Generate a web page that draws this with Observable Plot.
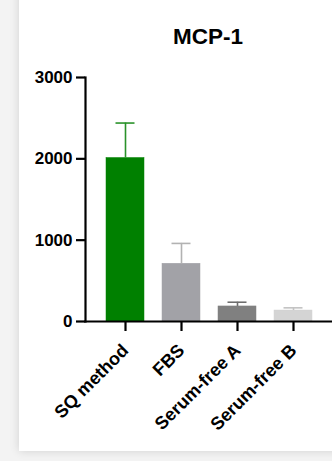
<!DOCTYPE html>
<html>
<head>
<meta charset="utf-8">
<script src="https://cdn.jsdelivr.net/npm/d3@7"></script>
<script src="https://cdn.jsdelivr.net/npm/@observablehq/plot@0.6"></script>
<style>
  html, body { margin: 0; padding: 0; }
  body {
    width: 332px; height: 461px; overflow: hidden; position: relative;
    background: #f3f3f3;
    font-family: "Liberation Sans", Arial, Helvetica, sans-serif;
  }
  #card {
    position: absolute; left: 19px; top: -20px; width: 340px; height: 471px;
    background: #fff; box-shadow: 0 0 9px rgba(0,0,0,0.14);
  }
  #title {
    position: absolute; left: 133px; width: 150px; top: 26px;
    text-align: center; font-weight: bold; font-size: 22.5px; line-height: 22px; color: #000;
  }
  #chart { position: absolute; left: 0; top: 0; }
  #chart svg { background: transparent; overflow: visible; }
</style>
</head>
<body>
<div id="card"></div>
<div id="title">MCP-1</div>
<div id="chart"></div>
<script>
// MCP-1 secretion by culture condition (mean with upward SD error bar)
const categories = ["SQ method", "FBS", "Serum-free A", "Serum-free B"];
const means = [2010, 710, 185, 135];
const sds = [430, 250, 52, 33];
const yTicks = [0, 1000, 2000, 3000];
const fills = ["#008000", "#a2a2a7", "#808080", "#d4d4d4"];
const errColors = ["#2a922a", "#b2b2b2", "#6e6e6e", "#c2c2c2"];

const rows = categories.map((c, i) => ({
  cat: c, mean: means[i], upper: means[i] + sds[i], fill: fills[i], err: errColors[i]
}));

const font = "'Liberation Sans', Arial, Helvetica, sans-serif";

const chart = Plot.plot({
  width: 332,
  height: 451,
  marginTop: 77,
  marginBottom: 130,
  marginLeft: 85,
  marginRight: 0,
  style: { fontFamily: font, background: "transparent", overflow: "visible" },
  x: { type: "band", domain: categories, range: [85, 333], paddingInner: 0.33, paddingOuter: 0.35, label: null },
  y: { domain: [0, 3000], label: null },
  marks: [
    Plot.barY(rows, { x: "cat", y: "mean", fill: "fill", stroke: "fill", strokeWidth: 0.5 }),
    Plot.ruleX(rows, { x: "cat", y1: "mean", y2: "upper", stroke: "err", strokeWidth: 1.6 }),
    Plot.tickY(rows, { x: "cat", y: "upper", stroke: "err", strokeWidth: 1.6, inset: 9.5 }),
    Plot.frame({ anchor: "left", stroke: "#000", strokeWidth: 2.2, strokeLinecap: "square" }),
    Plot.frame({ anchor: "bottom", stroke: "#000", strokeWidth: 2.2 }),
    Plot.axisY({
      ticks: yTicks, tickFormat: d => String(d), tickSize: 9, tickPadding: 4,
      strokeWidth: 2.2, fontSize: 17, fontWeight: "bold", fill: "#000", label: null
    }),
    Plot.axisX({
      tickSize: 10, tickPadding: 16, tickRotate: -45, strokeWidth: 2.2,
      fontSize: 18, fontWeight: "bold", fill: "#000", label: null
    })
  ]
});

document.getElementById("chart").appendChild(chart);
</script>
</body>
</html>
